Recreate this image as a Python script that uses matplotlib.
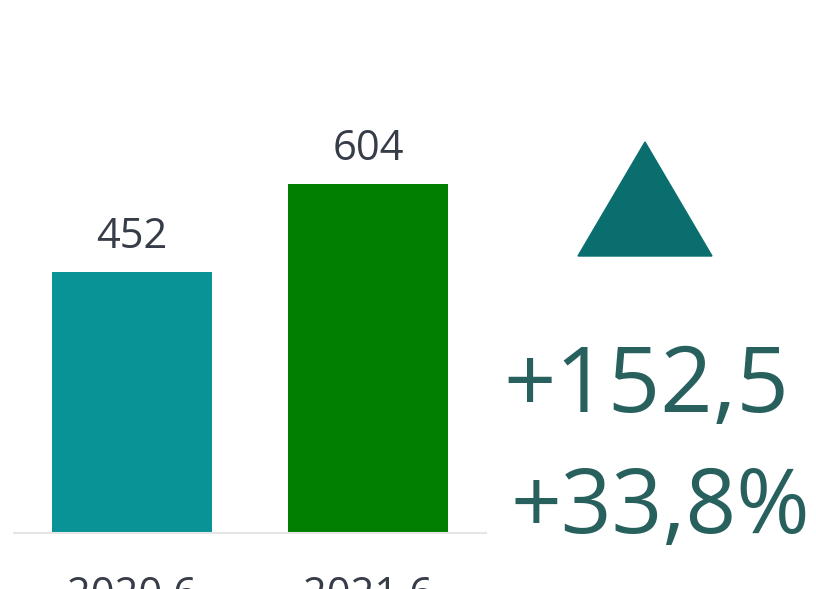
import matplotlib.pyplot as plt
from matplotlib.patches import Polygon

# data
periods = ['2020.6', '2021.6']
values = [452, 604]
bar_colors = ['#0a9396', '#007f00']
change_abs = '+152,5'
change_pct = '+33,8%'

W, H = 816, 589
plt.rcParams['font.family'] = ['Open Sans', 'DejaVu Sans']

fig = plt.figure(figsize=(W / 100, H / 100), dpi=100)
# axes placed in pixel terms: x from 14 to 486, baseline at y=533 (from top)
ax = fig.add_axes([14 / W, (H - 533) / H, 472 / W, 533 / H])

x = list(range(len(values)))
bars = ax.bar(x, values, width=160 / 236, color=bar_colors)
ax.set_xlim(-0.5, 1.5)
ax.set_ylim(0, 923)

for rect, v in zip(bars, values):
    ax.annotate(str(v), (rect.get_x() + rect.get_width() / 2, v),
                xytext=(0, 10), textcoords='offset points',
                ha='center', va='bottom', fontsize=30, color='#373d48')

ax.set_xticks(x)
ax.set_xticklabels(periods, fontsize=30, color='#373d48')
ax.tick_params(axis='x', length=0, pad=30)
ax.set_yticks([])
for side in ['top', 'right', 'left']:
    ax.spines[side].set_visible(False)
ax.spines['bottom'].set_color('#e6e6e6')
ax.spines['bottom'].set_linewidth(1.5)

# up triangle
tri = Polygon([[578 / W, 1 - 256 / H], [712 / W, 1 - 256 / H], [645 / W, 1 - 142 / H]],
              closed=True, transform=fig.transFigure, color='#0a6e6e')
fig.patches.append(tri)

fig.text(646 / W, 1 - 412 / H, change_abs, ha='center', va='baseline',
         fontsize=66, color='#28605e')
fig.text(660 / W, 1 - 533 / H, change_pct, ha='center', va='baseline',
         fontsize=64, color='#28605e')

fig.savefig('out.png', dpi=100)
